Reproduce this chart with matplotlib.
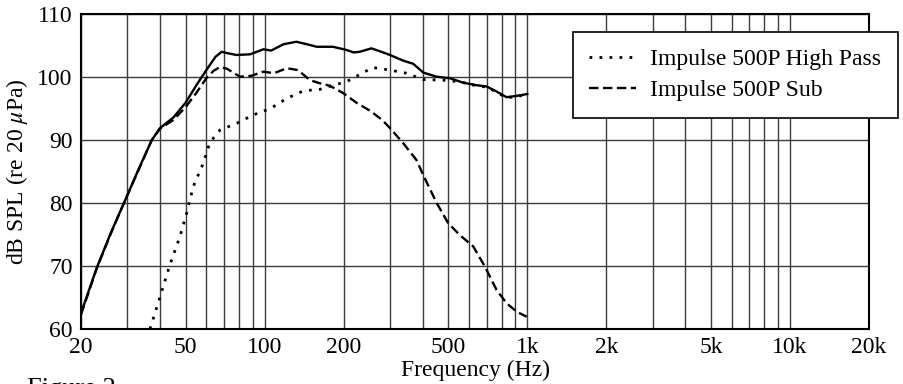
import matplotlib
matplotlib.use('Agg')
from matplotlib import pyplot as plt

plt.rcParams['font.family'] = ['Liberation Serif', 'DejaVu Serif']
plt.rcParams['mathtext.fontset'] = 'stix'

# summed response (solid)
sumFreq = [20, 23, 26, 29, 33, 37.2, 40, 45, 50, 55, 60, 65, 68.6, 72, 78, 88,
           99, 106, 118, 132, 145, 158, 182, 205, 218, 230, 255, 270, 300, 337,
           368, 402, 452, 508, 570, 641, 700, 764, 834, 911, 1000]
sumDb = [62.5, 69.8, 75.3, 79.8, 85.2, 90, 91.9, 93.6, 95.9, 98.7, 101.1, 103.2, 104.0,
         103.8, 103.5, 103.6, 104.4, 104.2, 105.2, 105.6, 105.2, 104.8, 104.8, 104.3,
         103.9, 104.0, 104.55, 104.2, 103.5, 102.6, 102.1, 100.7, 100.05, 99.8, 99.1,
         98.7, 98.5, 97.7, 96.8, 97.0, 97.3]

# high pass (dotted)
hpFreq = [36.6, 40, 43.6, 47.6, 50.5, 53.5, 58.4, 61.1, 63.8, 67.7, 71.7, 78.3, 90.4,
          105.3, 121.4, 140.4, 162.6, 182.5, 205, 241, 259, 300, 347, 402, 479, 554,
          641, 700, 764, 834, 911, 1000]
hpDb = [60.0, 65.1, 70.2, 74.65, 78.4, 82.6, 86.3, 88.9, 90.3, 91.6, 92.0, 92.65, 93.97,
        95.0, 96.6, 97.8, 98.05, 98.7, 99.25, 100.85, 101.5, 101.1, 100.6, 99.6, 99.5,
        99.25, 98.6, 98.4, 97.6, 96.7, 96.9, 97.2]

# sub (dashed)
subFreq = [20, 23, 26, 29, 33, 37.2, 40, 45, 50, 55, 60, 64, 67.7, 72, 80.6, 89.2, 98.9,
           108.6, 121.4, 134, 148.9, 162.6, 177.4, 200, 224, 252, 280, 300, 337, 379, 402,
           452, 500, 554, 623, 690, 764, 834, 911, 995]
subDb = [62.3, 69.7, 75.2, 79.8, 85.1, 90, 91.8, 93.2, 95.2, 97.5, 99.8, 101.0, 101.6,
         101.3, 100.05, 100.2, 100.85, 100.6, 101.4, 101.1, 99.5, 99.0, 98.6, 97.4, 95.9,
         94.65, 93.2, 91.9, 89.5, 86.8, 84.4, 80.0, 76.8, 74.9, 73.1, 69.9, 66.2, 64.1,
         62.75, 61.95]

majorTicks = [20, 50, 100, 200, 500, 1000, 2000, 5000, 10000, 20000]
majorLabels = ['20', '50', '100', '200', '500', '1k', '2k', '5k', '10k', '20k']
minorTicks = [30, 40, 60, 70, 80, 90, 300, 400, 600, 700, 800, 900,
              3000, 4000, 6000, 7000, 8000, 9000]
yTicks = [60, 70, 80, 90, 100, 110]

fig = plt.figure(figsize=(9.04, 3.84), dpi=100)
ax = fig.add_axes([0.0896, 0.1432, 0.8717, 0.8203])

ax.plot(sumFreq, sumDb, color='black', lw=1.7, ls='-')
ax.plot(hpFreq, hpDb, color='black', lw=2.0, ls=(0, (1, 2.6)), label='Impulse 500P High Pass')
ax.plot(subFreq, subDb, color='black', lw=1.7, ls=(0, (4.0, 1.9)), label='Impulse 500P Sub')

ax.set_xscale('log')
ax.set_xlim(20, 20000)
ax.set_ylim(60, 110)
ax.set_xticks(majorTicks)
ax.set_xticklabels(majorLabels)
ax.set_xticks(minorTicks, minor=True)
ax.set_xticklabels([], minor=True)
ax.set_yticks(yTicks)
ax.tick_params(which='both', length=0, labelsize=17)
ax.tick_params(axis='x', pad=6)
ax.tick_params(axis='y', pad=6)
ax.grid(True, which='both', color='#3c3c3c', lw=1.0)
for s in ax.spines.values():
    s.set_linewidth(1.5)
    s.set_color('black')

ax.set_xlabel('Frequency (Hz)', fontsize=17, labelpad=1)
ax.set_ylabel(r'dB SPL (re 20 $\mu$Pa)', fontsize=17, labelpad=5)

leg = ax.legend(loc='upper right', bbox_to_anchor=(898 / 904, 1 - 32 / 384),
                bbox_transform=fig.transFigure, borderaxespad=0, fancybox=False,
                framealpha=1, edgecolor='black', fontsize=17, handlelength=2.0,
                handletextpad=0.6, borderpad=0.7, labelspacing=0.4)
leg.get_frame().set_linewidth(1.2)

fig.text(0.03, 1 - 378 / 384, 'Figure 2', fontsize=19, va='top', ha='left')

fig.savefig('out.png', dpi=100)
